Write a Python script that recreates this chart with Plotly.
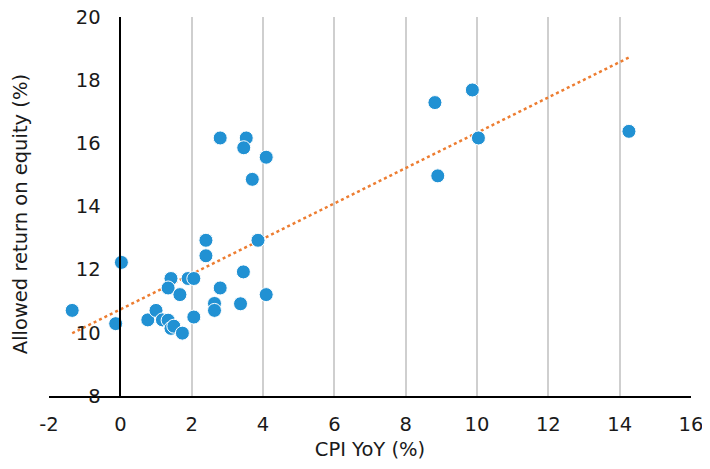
import numpy as np
import plotly.graph_objects as go

# Data variables
cpi_yoy = [-1.35, 0.03, -0.13, 0.77, 1.00, 1.18, 1.34, 1.42, 1.50, 1.74,
           1.42, 1.34, 1.67, 1.90, 2.06, 2.06, 2.40, 2.40, 2.80, 2.64,
           2.64, 3.45, 3.37, 3.86, 4.09, 2.80, 3.53, 3.46, 4.09, 3.70,
           8.82, 9.87, 10.04, 8.90, 14.26]
allowed_roe = [10.71, 12.23, 10.29, 10.41, 10.71, 10.41, 10.40, 10.14, 10.21, 9.99,
               11.72, 11.42, 11.21, 11.72, 11.72, 10.50, 12.93, 12.44, 11.42, 10.93,
               10.71, 11.93, 10.92, 12.93, 11.21, 16.17, 16.17, 15.86, 15.56, 14.86,
               17.29, 17.69, 16.17, 14.97, 16.38]
x_ticks = [-2, 0, 2, 4, 6, 8, 10, 12, 14, 16]
x_labels = ['-2', '0', '2', '4', '6', '8', '10', '12', '14', '16']
y_ticks = [8, 10, 12, 14, 16, 18, 20]

# Linear trendline (least squares, like Excel)
slope, intercept = np.polyfit(cpi_yoy, allowed_roe, 1)
trend_x = [min(cpi_yoy), max(cpi_yoy)]
trend_y = [slope * v + intercept for v in trend_x]

font_family = '"DejaVu Sans", sans-serif'
font_size = 19.5

fig = go.Figure()

fig.add_trace(go.Scatter(
    x = trend_x,
    y = trend_y,
    mode = 'lines',
    line = dict(color = '#ED7D31', width = 2.5, dash = 'dot'),
    hoverinfo = 'skip',
    showlegend = False,
))

fig.add_trace(go.Scatter(
    x = cpi_yoy,
    y = allowed_roe,
    mode = 'markers',
    marker = dict(color = '#2191D3', size = 14, line = dict(color = 'white', width = 1)),
    showlegend = False,
))

# page body adds 8px margin, so the figure is sized to stay inside the window
fig.update_layout(
    width = 702,
    height = 453,
    margin = dict(l = 41, r = 19, t = 9, b = 65),
    plot_bgcolor = 'white',
    paper_bgcolor = 'white',
    font = dict(family = font_family, size = font_size, color = '#1a1a1a'),
    xaxis = dict(
        range = [-2, 16],
        tickvals = x_ticks,
        ticktext = x_labels,
        showgrid = True,
        gridcolor = '#CFCFCF',
        gridwidth = 1.5,
        zeroline = False,
        showline = True,
        linecolor = 'black',
        linewidth = 1.5,
        ticks = '',
        ticklabelstandoff = 10,
        ticklabeloverflow = 'allow',
        automargin = False,
        title = dict(text = 'CPI YoY (%)', standoff = 8, font = dict(size = font_size)),
    ),
    yaxis = dict(
        range = [8, 20],
        tickvals = y_ticks,
        showgrid = False,
        zeroline = False,
        showline = True,
        linecolor = 'black',
        linewidth = 1.5,
        anchor = 'free',
        position = 2 / 18,
        ticks = '',
        ticklabelstandoff = 15,
        ticklabeloverflow = 'allow',
        automargin = False,
    ),
    annotations = [dict(
        text = 'Allowed return on equity (%)',
        xref = 'paper', yref = 'paper',
        x = -0.045, y = 0.48,
        xanchor = 'center', yanchor = 'middle',
        textangle = -90,
        showarrow = False,
        font = dict(size = font_size),
    )],
)

fig.write_html("out.html")
